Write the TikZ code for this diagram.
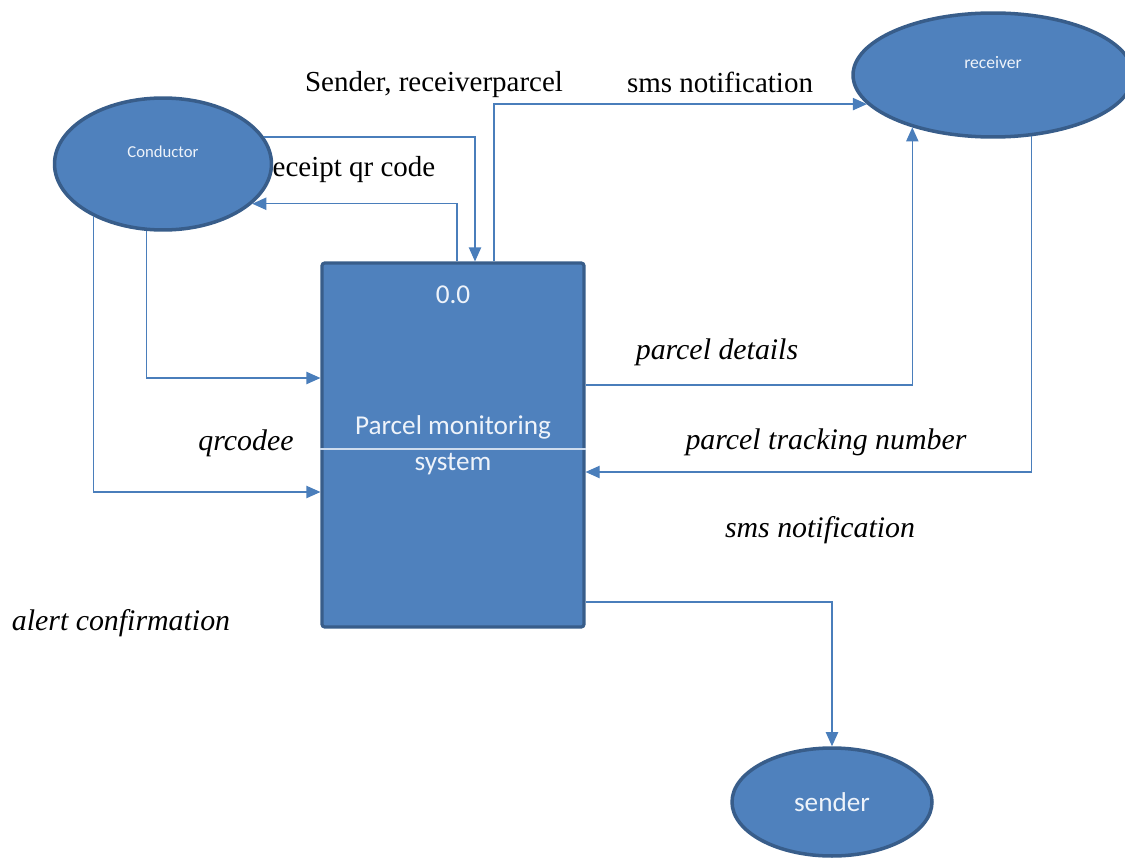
\documentclass[tikz,border=0pt]{standalone}
\usepackage{fontspec}
\setmainfont{Liberation Serif}
\newfontfamily\boxfont{Carlito}
\usepackage{tikz}
\usetikzlibrary{arrows.meta,positioning,calc,shapes.geometric}
\definecolor{dfdfill}{HTML}{4F81BD}
\definecolor{dfdborder}{HTML}{385D8A}
\definecolor{dfdline}{HTML}{4A7EBB}
\definecolor{dfdtext}{HTML}{EEF3FA}

\begin{document}
\begin{tikzpicture}[
  x=0.02cm, y=-0.02cm,
  oval/.style={ellipse, draw=dfdborder, fill=dfdfill, line width=2pt,
               inner sep=0pt},
  ovaltext/.style={text=dfdtext, font=\boxfont\fontsize{#1}{12pt}\selectfont},
  procbox/.style={rectangle, draw=dfdborder, fill=dfdfill, line width=1.8pt,
                  rounded corners=1.5pt, inner sep=0pt, align=center,
                  text=dfdtext, font=\boxfont\fontsize{15.5pt}{20.5pt}\selectfont},
  flow/.style={-{Triangle[length=8pt,width=7pt]}, draw=dfdline,
               line width=0.7pt},
  flowlbl/.style={font=\fontsize{16.5pt}{20pt}\selectfont, inner sep=0pt},
  flowit/.style={font=\itshape\fontsize{17pt}{20pt}\selectfont, inner sep=0pt}
]
\useasboundingbox (0,0) rectangle (1125,858);

% external entities and the process
\node[oval, minimum width=4.34cm, minimum height=2.64cm,
      label={[ovaltext=9.5pt, anchor=center, yshift=7pt]center:Conductor}]
  (cond) at (163,164) {};
\node[oval, minimum width=5.6cm, minimum height=2.48cm,
      label={[ovaltext=10pt, anchor=center, yshift=7pt]center:receiver}]
  (recv) at (993,75) {};
\node[oval, minimum width=4.0cm, minimum height=2.16cm,
      font=\boxfont\fontsize{15.5pt}{18pt}\selectfont, text=dfdtext]
  (send) at (832,802) {sender};
\node[procbox, minimum width=5.24cm, minimum height=7.28cm,
      label={[anchor=center, yshift=-19pt, text=dfdtext,
              font=\boxfont\fontsize{15.5pt}{18pt}\selectfont]north:0.0}]
  (pms) at (453,445) {Parcel monitoring\\system};
\draw[dfdtext!80!dfdfill, line width=0.8pt]
  ($(pms.west)+(0,4)$) -- ($(pms.east)+(0,4)$);

% flow labels
\node[flowlbl] (l-sr) at (434,85) {Sender, receiverparcel};
\node[flowlbl] (l-sms) at (720,82) {sms notification};
\node[flowlbl] (l-rcpt) at (354,170) {eceipt qr code};
\node[flowit] (l-det) at (717,352) {parcel details};
\node[flowit] (l-trk) at (826,442) {parcel tracking number};
\node[flowit] (l-sms2) at (820,530) {sms notification};
\node[flowit] (l-qr) at (246,443) {qrcodee};
\node[flowit] (l-alert) at (121,623) {alert confirmation};

% data flows
\draw[flow] (cond.15) -| ($(pms.north)+(22,0)$);
\draw[flow] ($(pms.north)+(4,0)$) |- (cond.-24);
\draw[flow] ($(pms.north)+(41,0)$) |- (recv.193);
\draw[flow] (cond.256) |- ($(pms.west)+(0,-67)$);
\draw[flow] (cond.217) |- ($(pms.west)+(0,47)$);
\draw[flow] ($(pms.east)+(0,-60)$) -| (recv.213);
\draw[flow] (recv.302) |- ($(pms.east)+(0,27)$);
\draw[flow] ($(pms.east)+(0,157)$) -| (send.north);
\end{tikzpicture}
\end{document}
